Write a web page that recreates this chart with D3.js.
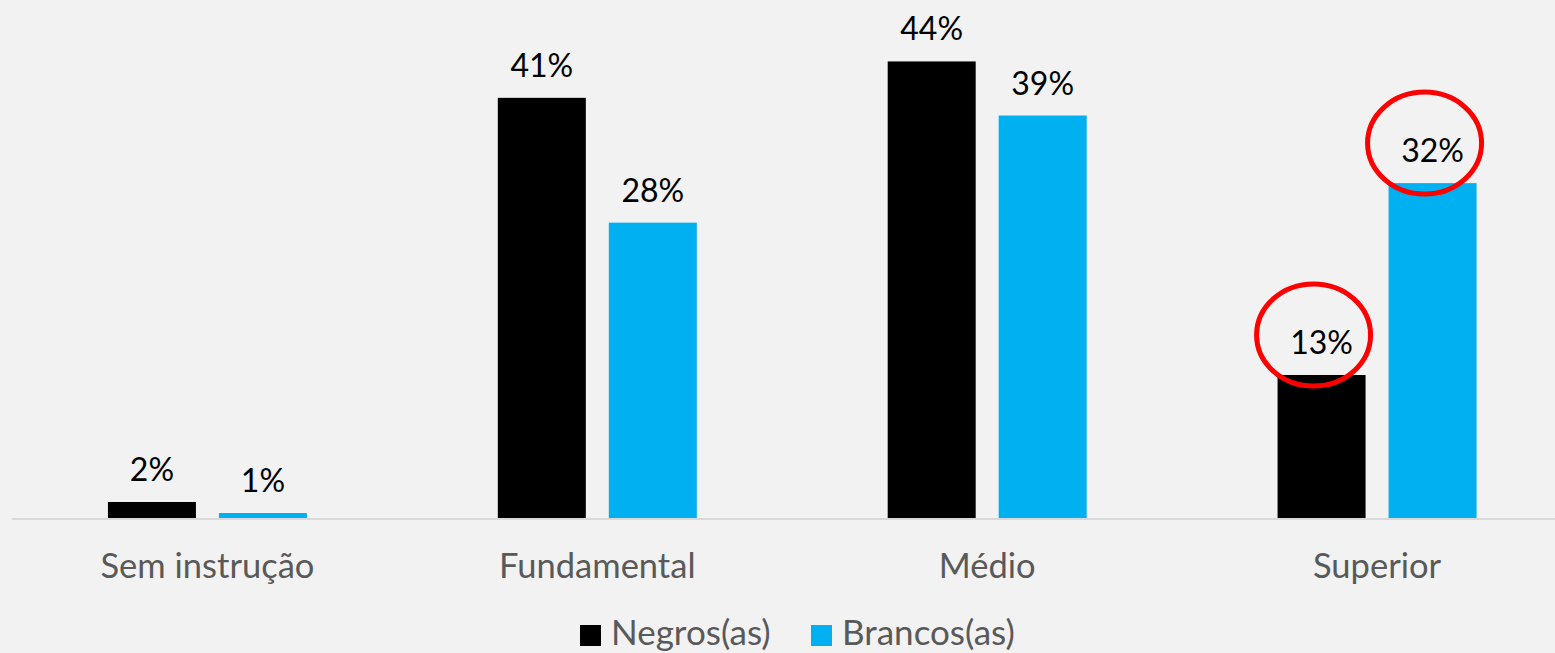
<!DOCTYPE html>
<html><head><meta charset="utf-8">
<script src="https://cdn.jsdelivr.net/npm/d3@7"></script>
<style>html,body{margin:0;padding:0;background:#f2f2f2;}svg{display:block;}</style>
</head><body>
<svg id="chart" width="1555" height="653"></svg>
<script>
const categories = ["Sem instrução", "Fundamental", "Médio", "Superior"];
const seriesNames = ["Negros(as)", "Brancos(as)"];
const negros = [1.54, 40.4, 43.9, 13.75];
const brancos = [0.48, 28.4, 38.7, 32.2];
const negrosLabels = ["2%", "41%", "44%", "13%"];
const brancosLabels = ["1%", "28%", "39%", "32%"];
const highlighted = [["Superior", "Negros(as)"], ["Superior", "Brancos(as)"]];

const colors = {"Negros(as)": "#000000", "Brancos(as)": "#00b0f0"};
const FONT = "Lato, 'Open Sans', sans-serif";

const svg = d3.select("#chart");
svg.append("rect").attr("width", 1555).attr("height", 653).attr("fill", "#f2f2f2");

const x0 = d3.scaleBand().domain(categories).range([12.5, 1572]).paddingInner(0).paddingOuter(0);
const groupW = 199;
const x1 = d3.scaleBand().domain(seriesNames).range([0, groupW]).paddingInner(23/111).paddingOuter(0);
const y = d3.scaleLinear().domain([0, 50]).range([518, -2]);

const rows = [];
categories.forEach((c, i) => {
  rows.push({cat: c, s: "Negros(as)", v: negros[i], label: negrosLabels[i]});
  rows.push({cat: c, s: "Brancos(as)", v: brancos[i], label: brancosLabels[i]});
});
const bx = d => x0(d.cat) + (x0.bandwidth() - groupW) / 2 + x1(d.s);

// baseline
svg.append("line").attr("x1", 12).attr("x2", 1555).attr("y1", y(0) + 1).attr("y2", y(0) + 1)
  .attr("stroke", "#d9d9d9").attr("stroke-width", 2);

svg.append("g").selectAll("rect").data(rows).join("rect")
  .attr("x", d => bx(d)).attr("width", x1.bandwidth())
  .attr("y", d => y(d.v)).attr("height", d => y(0) - y(d.v))
  .attr("fill", d => colors[d.s]);

svg.append("g").selectAll("text").data(rows).join("text")
  .attr("x", d => bx(d) + x1.bandwidth() / 2).attr("y", d => y(d.v) - 21)
  .attr("text-anchor", "middle").attr("font-family", FONT).attr("font-size", 32)
  .attr("fill", "#000").text(d => d.label);

// category axis
const axis = svg.append("g").attr("transform", `translate(0,${y(0)})`)
  .call(d3.axisBottom(x0).tickSize(0).tickPadding(0));
axis.select(".domain").remove();
axis.selectAll("text").attr("dy", 0).attr("y", 60).attr("font-family", FONT).attr("font-size", 34.5).attr("fill", "#595959");

// highlight ellipses
const hl = rows.filter(r => highlighted.some(h => h[0] === r.cat && h[1] === r.s));
svg.append("g").selectAll("ellipse").data(hl).join("ellipse")
  .attr("cx", d => bx(d) + x1.bandwidth() / 2 - 8).attr("cy", d => y(d.v) - 40)
  .attr("rx", 57).attr("ry", 51).attr("fill", "none").attr("stroke", "#ff0000").attr("stroke-width", 5);

// legend
const legendX = [580, 811];
const lg = svg.append("g").selectAll("g").data(seriesNames).join("g")
  .attr("transform", (d, i) => `translate(${legendX[i]},625)`);
lg.append("rect").attr("width", 21).attr("height", 21).attr("fill", d => colors[d]);
lg.append("text").attr("x", 31).attr("y", 20).attr("font-family", FONT).attr("font-size", 35)
  .attr("fill", "#595959").text(d => d);
</script>
</body></html>
